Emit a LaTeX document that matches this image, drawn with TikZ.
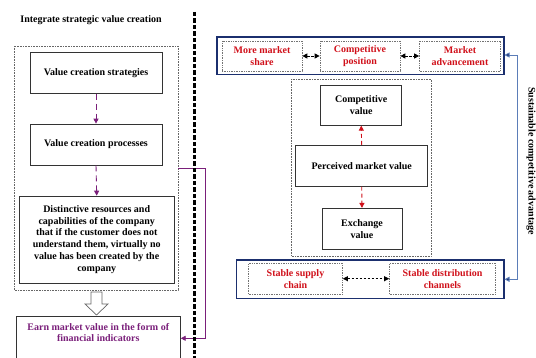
\documentclass[tikz,border=0pt]{standalone}
\usepackage{fontspec}
\setmainfont{Liberation Serif}
\usetikzlibrary{arrows.meta}
\definecolor{vpurple}{HTML}{7A1F7A}
\definecolor{vred}{HTML}{D0101A}
\definecolor{vnavy}{HTML}{1B2F6E}
\definecolor{vblue}{HTML}{5B7DB8}
\tikzset{
  txt/.style={font=\fontsize{10}{11.8}\selectfont\bfseries, align=center},
  plainbox/.style={draw=black!80, line width=0.7pt, txt, inner sep=1pt},
  dotbox/.style={draw=black!60, densely dotted, line width=0.6pt},
  redbox/.style={draw=black!55, densely dotted, line width=0.7pt, txt, text=vred, inner sep=1pt},
  navybox/.style={draw=vnavy, line width=1.3pt},
  purplearrow/.style={draw=vpurple, line width=0.9pt, dash pattern=on 6pt off 4pt, -{Triangle[length=5pt,width=5pt]}},
  redarrow/.style={draw=vred, line width=0.9pt, dash pattern=on 4pt off 3pt, -{Triangle[length=5pt,width=5pt]}},
  bidir/.style={draw=black, line width=0.9pt, dash pattern=on 2.5pt off 1.5pt, {Triangle[length=5pt,width=5pt]}-{Triangle[length=5pt,width=5pt]}},
}
\begin{document}
\begin{tikzpicture}[x=1pt,y=-1pt]
\useasboundingbox (0,0) rectangle (536,358);

% ---- left: integrated strategic value creation ----
\node[txt] (title) at (91,20.5) {Integrate strategic value creation};
\draw[dotbox] (14,46) rectangle (178,290);
\coordinate (leftout) at (178,168.3);

\node[plainbox, minimum width=132pt, minimum height=41pt] (strat) at (96,72.7) {Value creation strategies};
\node[plainbox, minimum width=132pt, minimum height=41pt] (proc) at (96,144.5) {Value creation processes};
\node[plainbox, minimum width=155pt, minimum height=87pt] (res) at (96.7,239.5)
  {Distinctive resources and\\capabilities of the company\\that if the customer does not\\understand them, virtually no\\value has been created by the\\company};

\draw[purplearrow] (strat.south) -- (proc.north);
\draw[purplearrow] (proc.south) -- (res.north);

% hollow block arrow towards the financial result
\draw[draw=black!60, line width=0.7pt, fill=white]
  (91,292) -- (102,292) -- (102,304) -- (108,304) -- (96.5,315) -- (85,304) -- (91,304) -- cycle;

% financial indicators box (runs off the lower edge)
\draw[draw=black!80, line width=0.7pt] (16,370) -- (16,316) -- (180.7,316) -- (180.7,370);
\node[txt, text=vpurple] (earn) at (98.3,332.5) {Earn market value in the form of\\financial indicators};
\coordinate (earnin) at (180.7,338.3);
\coordinate (pc1) at (205,168.3);
\coordinate (pc2) at (205,338.3);
\draw[vpurple, line width=0.9pt, -{Triangle[length=5pt,width=5pt]}] (leftout) -- (pc1) -- (pc2) -- (earnin);

% ---- divider ----
\coordinate (divtop) at (194.5,12);
\coordinate (divbot) at (194.5,358);
\draw[black, line width=2.8pt, dash pattern=on 4.5pt off 2pt] (divtop) -- (divbot);

% ---- right: market outcomes ----
\draw[navybox] (217,37) rectangle (504,74.5);
\node[redbox, minimum width=80pt, minimum height=30pt] (share) at (262,56) {More market\\share};
\node[redbox, minimum width=80pt, minimum height=30pt] (pos) at (360,56) {Competitive\\position};
\node[redbox, minimum width=81pt, minimum height=30pt] (adv) at (460,56) {Market\\advancement};
\draw[bidir] (share.east) -- (pos.west);
\draw[bidir] (pos.east) -- (adv.west);

\draw[dotbox] (291.7,79) rectangle (431,256.5);
\node[plainbox, minimum width=81pt, minimum height=40pt] (cval) at (361.2,105.3) {Competitive\\value};
\node[plainbox, minimum width=132pt, minimum height=41pt] (pmv) at (361.7,165.7) {Perceived market value};
\node[plainbox, minimum width=80pt, minimum height=41pt] (xval) at (362,228.8) {Exchange\\value};
\draw[redarrow] (pmv.north) -- (cval.south);
\draw[redarrow] (pmv.south) -- (xval.north);

\draw[navybox] (236.7,260) rectangle (504,298.5);
\node[redbox, minimum width=94pt, minimum height=30.5pt] (supply) at (295.5,278.7) {Stable supply\\chain};
\node[redbox, minimum width=106pt, minimum height=30.5pt] (dist) at (442.5,278.7) {Stable distribution\\channels};
\draw[bidir] (supply.east) -- (dist.west);

% sustainable competitive advantage loop
\coordinate (topin) at (504.5,55);
\coordinate (botin) at (504.5,279.3);
\coordinate (bc1) at (517.7,55);
\coordinate (bc2) at (517.7,279.3);
\draw[vblue, line width=0.8pt] (bc1) -- (bc2);
\draw[vblue, line width=0.8pt, -{Triangle[length=5pt,width=5pt,fill=vnavy]}] (bc1) -- (topin);
\draw[vblue, line width=0.8pt, -{Triangle[length=5pt,width=5pt,fill=vnavy]}] (bc2) -- (botin);
\node[txt, rotate=-90] (sca) at (531,161) {Sustainable competitive advantage};
\end{tikzpicture}
\end{document}
